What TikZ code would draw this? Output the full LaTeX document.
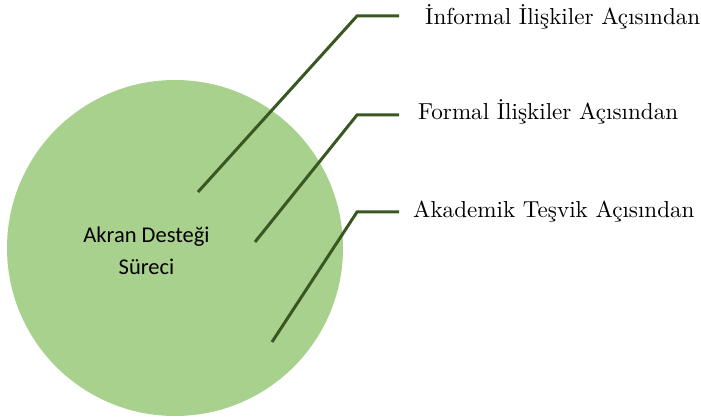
\documentclass[tikz,border=0pt]{standalone}
\usepackage{fontspec}
\newfontfamily\carlito{Carlito}
\newfontfamily\sidefont{lmroman10-regular.otf}
\definecolor{circfill}{HTML}{A9D18E}
\definecolor{linegreen}{HTML}{385723}
\tikzset{
  bubble/.style={circle, fill=circfill, draw=none, inner sep=0pt, minimum size=336pt},
  centerlabel/.style={font=\carlito\fontsize{22.5}{27}\selectfont, inner sep=0pt, anchor=base, text=black},
  sidelabel/.style={font=\sidefont\fontsize{23.1}{27}\selectfont, inner sep=0pt, anchor=base west, text=black},
  leader/.style={draw=linegreen, line width=3pt}
}
\begin{document}
\begin{tikzpicture}[x=1pt,y=-1pt]
\useasboundingbox (0,0) rectangle (701,419);
\node[bubble] (circ) at (175,248) {};
\node[centerlabel] (lblA) at (146.5,243) {Akran Desteği};
\node[centerlabel] (lblB) at (146.5,275) {Süreci};

\node[sidelabel] (t1) at (425,25) {İnformal İlişkiler Açısından};
\node[sidelabel] (t2) at (418,120) {Formal İlişkiler Açısından};
\node[sidelabel] (t3) at (413,218) {Akademik Teşvik Açısından};

\coordinate (s1) at (198,192);
\coordinate (b1) at (357,16);
\coordinate (e1) at (399,16);
\coordinate (s2) at (255,242);
\coordinate (b2) at (357,115);
\coordinate (e2) at (399,115);
\coordinate (s3) at (272,342);
\coordinate (b3) at (357,212);
\coordinate (e3) at (399,212);

\draw[leader] (s1) -- (b1) -- (e1);
\draw[leader] (s2) -- (b2) -- (e2);
\draw[leader] (s3) -- (b3) -- (e3);
\end{tikzpicture}
\end{document}
